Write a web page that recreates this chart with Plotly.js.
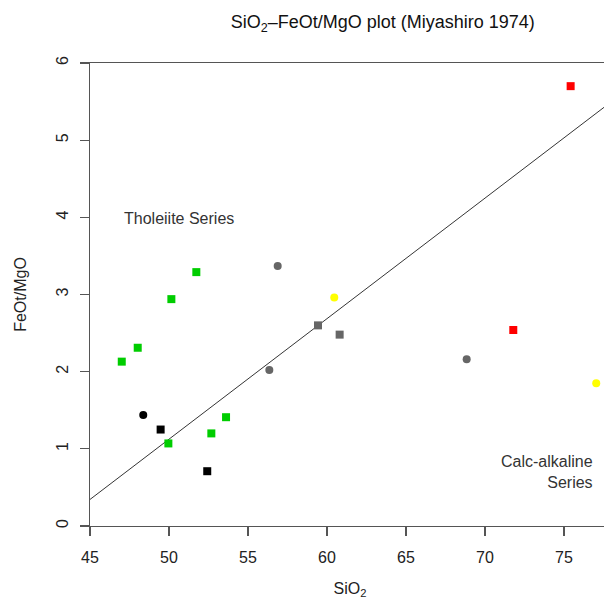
<!DOCTYPE html>
<html>
<head>
<meta charset="utf-8">
<script src="https://cdn.plot.ly/plotly-3.0.1.min.js"></script>
<style>
html,body{margin:0;padding:0;overflow:hidden;background:#fff;}
#chart{width:620px;height:601px;}
</style>
</head>
<body>
<div id="chart"></div>
<script>
// Data
var greenSqX = [47.01, 48.02, 50.15, 51.73, 49.96, 52.68, 53.61];
var greenSqY = [2.13, 2.31, 2.94, 3.29, 1.07, 1.20, 1.41];
var blackCircX = [48.37];
var blackCircY = [1.44];
var blackSqX = [49.47, 52.42];
var blackSqY = [1.25, 0.71];
var grayCircX = [56.88, 56.35, 68.84];
var grayCircY = [3.37, 2.02, 2.16];
var graySqX = [59.43, 60.80];
var graySqY = [2.60, 2.48];
var yellowCircX = [60.46, 77.04];
var yellowCircY = [2.96, 1.85];
var redSqX = [71.79, 75.42];
var redSqY = [2.54, 5.70];

// Miyashiro (1974) boundary: FeOt/MgO = 0.1562*SiO2 - 6.685
var lineSlope = 0.1562;
var lineIntercept = -6.685;
var lineX = [40, 85];
var lineY = lineX.map(function(v){return lineSlope*v + lineIntercept;});

var xTicks = [45, 50, 55, 60, 65, 70, 75];
var yTicks = [0, 1, 2, 3, 4, 5, 6];

function pts(x, y, color, symbol, size){
  return {x:x, y:y, type:'scatter', mode:'markers', hoverinfo:'skip',
    marker:{color:color, symbol:symbol, size:size, line:{width:0}}};
}

var traces = [
  {x:lineX, y:lineY, type:'scatter', mode:'lines', line:{color:'#000', width:0.8}, hoverinfo:'skip'},
  pts(greenSqX, greenSqY, '#00CD00', 'square', 8),
  pts(blackCircX, blackCircY, '#000000', 'circle', 8),
  pts(blackSqX, blackSqY, '#000000', 'square', 8),
  pts(grayCircX, grayCircY, '#666666', 'circle', 8),
  pts(graySqX, graySqY, '#666666', 'square', 8),
  pts(yellowCircX, yellowCircY, '#FFFF00', 'circle', 8),
  pts(redSqX, redSqY, '#FF0000', 'square', 8)
];

var fontFam = 'Liberation Sans, Arial, sans-serif';
var layout = {
  width:620, height:601,
  margin:{l:90, r:10, t:63, b:75},
  paper_bgcolor:'#fff', plot_bgcolor:'#fff',
  showlegend:false,
  font:{family:fontFam, size:16, color:'#222'},
  title:{text:'SiO<sub>2</sub>\u2013FeOt/MgO plot (Miyashiro 1974)', font:{family:fontFam, size:18, color:'#111'},
    x:349/620, xanchor:'center', xref:'paper', y:1-22/601, yanchor:'middle', yref:'container'},
  xaxis:{range:[45, 45+(610-90)/15.8], tickvals:xTicks, ticktext:xTicks.map(String),
    showgrid:false, zeroline:false, showline:true, mirror:true, linecolor:'#555', linewidth:1.2,
    ticks:'outside', ticklen:9, tickcolor:'#555', tickwidth:1.2, ticklabelstandoff:8,
    tickfont:{family:fontFam, size:16, color:'#222'},
    title:{text:'SiO<sub>2</sub>', font:{family:fontFam, size:16, color:'#222'}, standoff:17}},
  yaxis:{range:[0,6], tickvals:yTicks, ticktext:yTicks.map(String),
    showgrid:false, zeroline:false, showline:true, mirror:true, linecolor:'#555', linewidth:1.2,
    ticks:'outside', ticklen:9, tickcolor:'#555', tickwidth:1.2, tickangle:-90, ticklabelstandoff:5,
    tickfont:{family:fontFam, size:16, color:'#222'},
    title:{text:'FeOt/MgO', font:{family:fontFam, size:16, color:'#222'}, standoff:23}},
  annotations:[
    {x:122, y:218, xref:'paper', yref:'paper', text:'Tholeiite Series', showarrow:false,
      xanchor:'left', yanchor:'middle', font:{family:fontFam, size:16, color:'#333'}},
    {x:595, y:472, xref:'paper', yref:'paper', text:'Calc-alkaline<br>Series', showarrow:false,
      xanchor:'right', yanchor:'middle', align:'right', font:{family:fontFam, size:16, color:'#333'}}
  ]
};
// convert pixel positions of annotations into paper coordinates
var pw = 620-90-10, ph = 601-63-75;
layout.annotations.forEach(function(a){
  a.x = (a.x-90)/pw;
  a.y = (601-75-a.y)/ph;
});

Plotly.newPlot('chart', traces, layout, {displayModeBar:false, staticPlot:true});
</script>
</body>
</html>
